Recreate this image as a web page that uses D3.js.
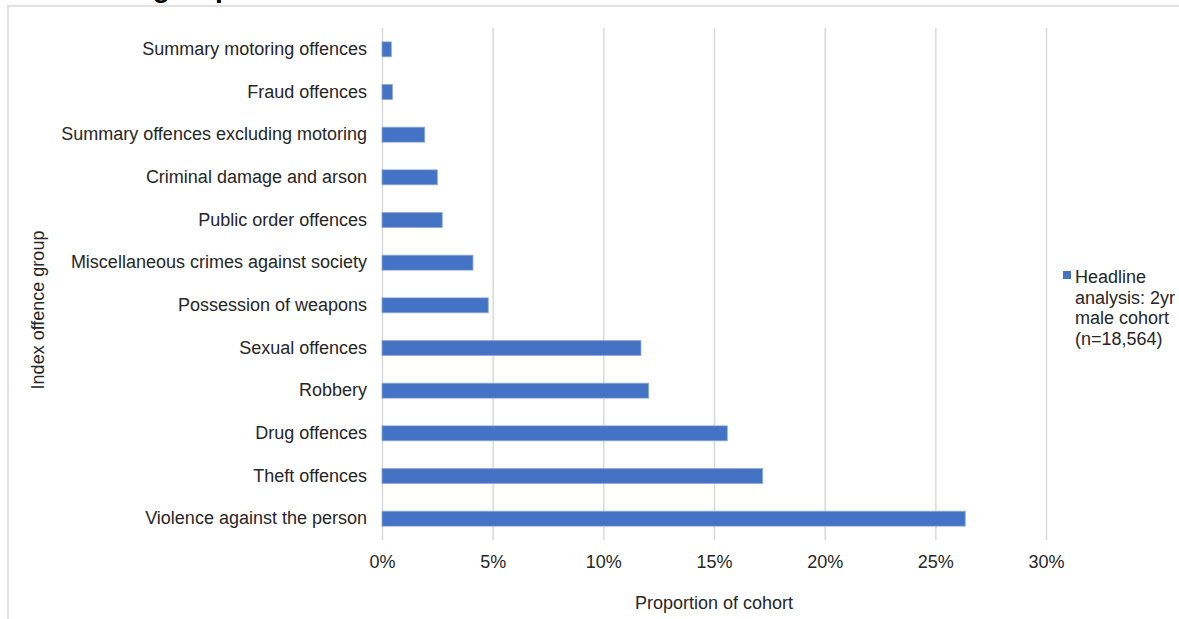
<!DOCTYPE html>
<html>
<head>
<meta charset="utf-8">
<script src="https://cdn.jsdelivr.net/npm/d3@7"></script>
<style>
  html, body { margin: 0; padding: 0; background: #fff; }
  svg { display: block; font-family: "Liberation Sans", Arial, sans-serif; }
</style>
</head>
<body>
<svg id="chart" width="1179" height="619"></svg>
<script>
// ---- data ----
const categories = [
  "Summary motoring offences",
  "Fraud offences",
  "Summary offences excluding motoring",
  "Criminal damage and arson",
  "Public order offences",
  "Miscellaneous crimes against society",
  "Possession of weapons",
  "Sexual offences",
  "Robbery",
  "Drug offences",
  "Theft offences",
  "Violence against the person"
];
const values = [0.42, 0.47, 1.93, 2.5, 2.72, 4.11, 4.8, 11.7, 12.05, 15.6, 17.2, 26.35];
const xTicks = [0, 5, 10, 15, 20, 25, 30];
const seriesName = ["Headline", "analysis: 2yr", "male cohort", "(n=18,564)"];
const titleText = "Proportion of the cohort by index offence group";
const xTitle = "Proportion of cohort";
const yTitle = "Index offence group";

// ---- layout ----
const svg = d3.select("#chart");
const plotLeft = 382, plotRight = 1046, plotTop = 28, plotBottom = 540;
const textColor = "#262626";
const gridColor = "#d9d9d9";
const barColor = "#4472C4";

// frame
svg.append("rect")
  .attr("x", 8).attr("y", 6).attr("width", 1300).attr("height", 800)
  .attr("fill", "none").attr("stroke", gridColor).attr("stroke-width", 1.5);

// title (mostly above the visible area, as in the reference)
svg.append("text")
  .attr("x", 232).attr("y", -3)
  .attr("text-anchor", "end")
  .attr("font-size", 28).attr("font-weight", "bold").attr("fill", "#000")
  .text(titleText);

const x = d3.scaleLinear().domain([0, 30]).range([plotLeft, plotRight]);
const y = d3.scaleBand().domain(categories).range([plotTop, plotBottom])
  .paddingInner(0.65).paddingOuter(0.325);

// gridlines + x axis
const xAxis = d3.axisBottom(x)
  .tickValues(xTicks)
  .tickSize(-(plotBottom - plotTop))
  .tickPadding(15)
  .tickFormat(d => d + "%");
const gx = svg.append("g").attr("transform", `translate(0,${plotBottom})`).call(xAxis);
gx.select(".domain").remove();
gx.selectAll(".tick line").attr("stroke", gridColor).attr("stroke-width", 1.5);
gx.selectAll(".tick text")
  .attr("font-size", 18).attr("fill", textColor)
  .attr("font-family", "Liberation Sans, Arial, sans-serif");

// bars
svg.append("g").selectAll("rect")
  .data(categories.map((c, i) => ({ c, v: values[i] })))
  .join("rect")
  .attr("x", x(0))
  .attr("y", d => y(d.c))
  .attr("width", d => x(d.v) - x(0))
  .attr("height", y.bandwidth())
  .attr("fill", barColor)
  .attr("stroke", "#8faadc").attr("stroke-width", 0.8);

// y axis labels
const yAxis = d3.axisLeft(y).tickSize(0).tickPadding(15);
const gy = svg.append("g").attr("transform", `translate(${plotLeft},0)`).call(yAxis);
gy.select(".domain").remove();
gy.selectAll(".tick text")
  .attr("font-size", 18).attr("fill", textColor)
  .attr("font-family", "Liberation Sans, Arial, sans-serif");

// axis titles
svg.append("text")
  .attr("x", (plotLeft + plotRight) / 2).attr("y", 609)
  .attr("text-anchor", "middle")
  .attr("font-size", 18).attr("fill", textColor)
  .text(xTitle);

svg.append("text")
  .attr("transform", "translate(44,310) rotate(-90)")
  .attr("text-anchor", "middle")
  .attr("font-size", 18).attr("fill", textColor)
  .text(yTitle);

// legend
svg.append("rect")
  .attr("x", 1063).attr("y", 271).attr("width", 8).attr("height", 8)
  .attr("fill", barColor);
const lg = svg.append("text")
  .attr("x", 1075).attr("y", 283)
  .attr("font-size", 18).attr("fill", textColor);
seriesName.forEach((s, i) => {
  lg.append("tspan").attr("x", 1075).attr("dy", i === 0 ? 0 : 20.5).text(s);
});
</script>
</body>
</html>
